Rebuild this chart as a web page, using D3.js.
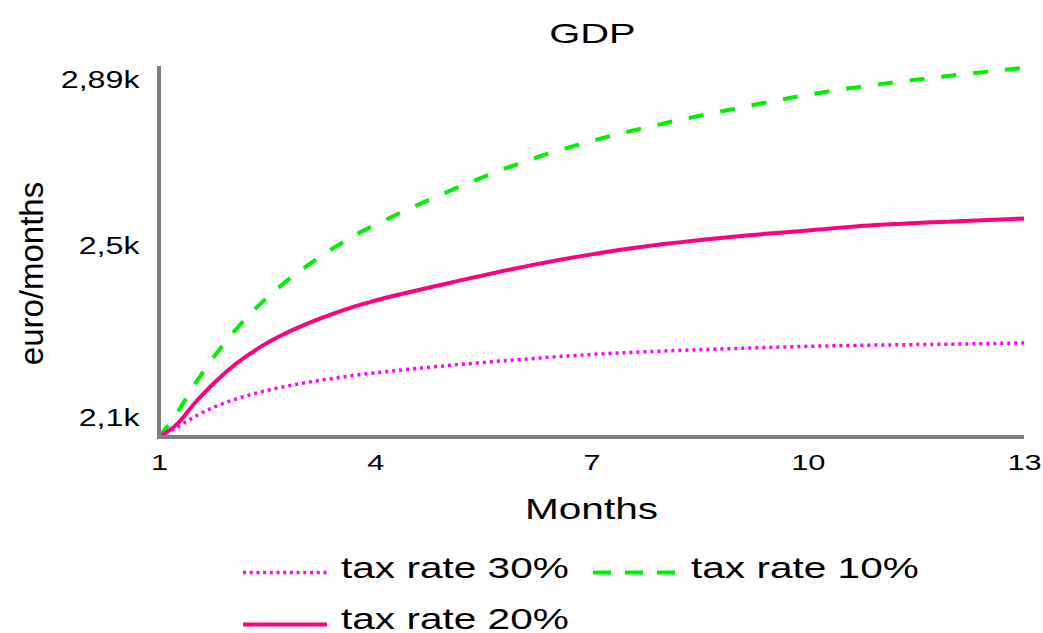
<!DOCTYPE html>
<html>
<head>
<meta charset="utf-8">
<script src="https://cdn.jsdelivr.net/npm/d3@7"></script>
<style>
  html, body { margin: 0; padding: 0; background: #fff; }
  text { font-family: "Liberation Sans", Arial, sans-serif; fill: #000; }
</style>
</head>
<body>
<svg id="chart" width="1043" height="633"></svg>
<script>
// ---- data ----
const months = [1, 1.25, 1.5, 1.75, 2, 2.25, 2.5, 2.75, 3, 3.25, 3.5, 3.75, 4, 5, 6, 7, 8, 9, 10, 11, 12, 13];
const tax30 = [2053, 2076, 2101, 2122, 2138, 2151, 2162, 2171, 2179, 2186, 2192, 2198, 2203, 2220, 2234, 2246, 2254, 2260, 2265, 2268, 2270, 2273];
const tax10 = [2053, 2109, 2177, 2238, 2291, 2338, 2379, 2415, 2447, 2476, 2503, 2528, 2549, 2626, 2693, 2745, 2786, 2821, 2853, 2878, 2898, 2916];
const tax20 = [2053, 2083, 2133, 2177, 2215, 2246, 2273, 2295, 2314, 2331, 2346, 2360, 2372, 2412, 2449, 2480, 2504, 2522, 2536, 2549, 2557, 2564];
const xTicks = [1, 4, 7, 10, 13];
const yTicks = [2100, 2500, 2890];
const yTickLabels = ["2,1k", "2,5k", "2,89k"];
const seriesNames = ["tax rate 30%", "tax rate 10%", "tax rate 20%"];
const titleText = "GDP";
const xTitle = "Months";
const yTitle = "euro/months";

// ---- layout ----
const SX = 1.4; // horizontal text stretch seen in reference
const svg = d3.select("#chart");
const x = d3.scaleLinear().domain([1, 13]).range([159, 1024]);
const y = d3.scaleLinear().domain([2053, 2918]).range([437, 67]);

const series = [
  { name: seriesNames[0], values: tax30, color: "#ff00ff", dash: "3,4", width: 3.5, legendDash: "3,3.7" },
  { name: seriesNames[1], values: tax10, color: "#00f000", dash: "15,17", width: 4, legendDash: "18,14" },
  { name: seriesNames[2], values: tax20, color: "#ff0080", dash: null, width: 4, legendDash: null }
];

function stretchedText(g, tx, ty, str, size, anchor) {
  return g.append("text")
    .attr("transform", `translate(${tx},${ty}) scale(${SX},1)`)
    .attr("text-anchor", anchor)
    .attr("font-size", size)
    .text(str);
}

// title
stretchedText(svg, 592.5, 43, titleText, 28.5, "middle");

// lines
const line = d3.line().x((d, i) => x(months[i])).y(d => y(d)).curve(d3.curveMonotoneX);
series.forEach(s => {
  svg.append("path")
    .datum(s.values)
    .attr("d", line)
    .attr("fill", "none")
    .attr("stroke", s.color)
    .attr("stroke-width", s.width)
    .attr("stroke-dasharray", s.dash)
    .attr("stroke-linejoin", "round");
});

// axes
const axisColor = "#7f7f7f";
const xAxis = svg.append("g").attr("transform", "translate(0,437)")
  .call(d3.axisBottom(x).tickValues(xTicks).tickSize(0).tickFormat(d3.format("d")));
xAxis.select(".domain").attr("stroke", axisColor).attr("stroke-width", 4).attr("d", "M157,0H1024");
xAxis.selectAll(".tick text").each(function() {
  const t = d3.select(this);
  t.attr("y", null).attr("dy", null)
   .attr("transform", `translate(0,32.5) scale(${SX},1)`)
   .attr("font-size", 22).attr("font-family", "Liberation Sans, Arial, sans-serif")
   .attr("fill", "#000");
});

const yAxis = svg.append("g").attr("transform", "translate(159,0)")
  .call(d3.axisLeft(y).tickValues(yTicks).tickSize(0).tickFormat((d, i) => yTickLabels[i]));
yAxis.select(".domain").attr("stroke", axisColor).attr("stroke-width", 4).attr("d", "M0,439V66");
yAxis.selectAll(".tick text").each(function() {
  const t = d3.select(this);
  t.attr("x", null).attr("dy", null)
   .attr("transform", `translate(-19.5,8.2) scale(${SX},1)`)
   .attr("text-anchor", "end")
   .attr("font-size", 23).attr("font-family", "Liberation Sans, Arial, sans-serif")
   .attr("fill", "#000");
});

// axis titles
stretchedText(svg, 591.5, 519, xTitle, 29, "middle");
svg.append("text")
  .attr("transform", "translate(43,273.5) rotate(-90)")
  .attr("text-anchor", "middle")
  .attr("font-size", 33)
  .text(yTitle);

// legend
const legendPos = [
  { lx: 243, ly: 572.5, tx: 341, ty: 577.5 },
  { lx: 593, ly: 572.5, tx: 691, ty: 577.5 },
  { lx: 243, ly: 624.5, tx: 341, ty: 629 }
];
series.forEach((s, i) => {
  const p = legendPos[i];
  svg.append("line")
    .attr("x1", p.lx).attr("x2", p.lx + 84)
    .attr("y1", p.ly).attr("y2", p.ly)
    .attr("stroke", s.color)
    .attr("stroke-width", s.width)
    .attr("stroke-dasharray", s.legendDash);
  stretchedText(svg, p.tx, p.ty, s.name, 29, "start");
});
</script>
</body>
</html>
